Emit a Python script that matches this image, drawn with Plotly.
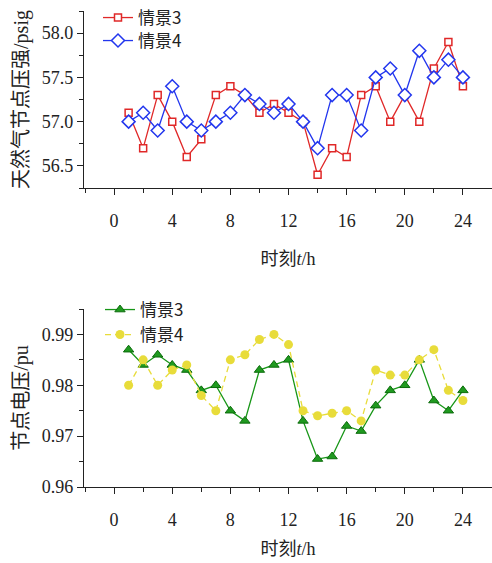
import plotly.graph_objects as go

# Hours of the day
hours = list(range(1, 25))

# Natural-gas node pressure (psig)
gas_s3 = [57.1, 56.7, 57.3, 57.0, 56.6, 56.8, 57.3, 57.4, 57.3, 57.1, 57.2, 57.1,
          57.0, 56.4, 56.7, 56.6, 57.3, 57.4, 57.0, 57.3, 57.0, 57.6, 57.9, 57.4]
gas_s4 = [57.0, 57.1, 56.9, 57.4, 57.0, 56.9, 57.0, 57.1, 57.3, 57.2, 57.1, 57.2,
          57.0, 56.7, 57.3, 57.3, 56.9, 57.5, 57.6, 57.3, 57.8, 57.5, 57.7, 57.5]

# Power node voltage (pu)
volt_s3 = [0.987, 0.984, 0.986, 0.984, 0.983, 0.979, 0.980, 0.975, 0.973, 0.983, 0.984, 0.985,
           0.973, 0.9655, 0.966, 0.972, 0.971, 0.976, 0.979, 0.980, 0.985, 0.977, 0.975, 0.979]
volt_s4 = [0.980, 0.985, 0.980, 0.983, 0.984, 0.978, 0.975, 0.985, 0.986, 0.989, 0.990, 0.988,
           0.975, 0.974, 0.9745, 0.975, 0.973, 0.983, 0.982, 0.982, 0.985, 0.987, 0.979, 0.977]

names = ["情景3", "情景4"]
x_ticks = [0, 4, 8, 12, 16, 20, 24]

# Latin glyphs in a Times-like serif, Chinese glyphs fall back to Noto Sans CJK
SERIF = "Liberation Serif, Times New Roman, Noto Sans CJK SC, serif"
CJK = "Noto Sans CJK SC, Liberation Serif"
INK = "#222222"

# page geometry (pixels)
W, H = 492, 563
LEFT_M, TOP_M, BOT_M = 84, 0, 76
PAPER_W = W - LEFT_M
PAPER_H = H - TOP_M - BOT_M


def fy(py):
    """Pixel row (from top of page) -> paper fraction."""
    return (H - BOT_M - py) / PAPER_H


def fx(px):
    """Pixel column -> paper fraction."""
    return (px - LEFT_M) / PAPER_W


fig = go.Figure()

fig.add_trace(go.Scatter(
    x=hours, y=gas_s3, name=names[0], mode="lines+markers",
    line=dict(color="#e02828", width=1.3),
    marker=dict(symbol="square", size=7, color="white", line=dict(color="#e02828", width=1.5)),
    xaxis="x", yaxis="y", legend="legend"))
fig.add_trace(go.Scatter(
    x=hours, y=gas_s4, name=names[1], mode="lines+markers",
    line=dict(color="#2236ee", width=1.3),
    marker=dict(symbol="diamond", size=10, color="white", line=dict(color="#2236ee", width=1.5)),
    xaxis="x", yaxis="y", legend="legend2"))

fig.add_trace(go.Scatter(
    x=hours, y=volt_s3, name=names[0], mode="lines+markers",
    line=dict(color="#179617", width=1.3),
    marker=dict(symbol="triangle-up", size=9, color="#1f9a1f", line=dict(color="#0b6b0b", width=1)),
    xaxis="x2", yaxis="y2", legend="legend3"))
fig.add_trace(go.Scatter(
    x=hours, y=volt_s4, name=names[1], mode="lines+markers",
    line=dict(color="#e8dc3a", width=1.3, dash="6px,4px"),
    marker=dict(symbol="circle", size=9, color="#e8dc3a"),
    xaxis="x2", yaxis="y2", legend="legend4"))


def x_axis(anchor, title_standoff):
    return dict(
        domain=[0, 1], anchor=anchor,
        range=[-2.07, 26.0], tickvals=x_ticks, ticks="outside", ticklen=6, tickwidth=1.3,
        tickcolor=INK, showline=True, linecolor=INK, linewidth=1.4, showgrid=False, zeroline=False,
        tickfont=dict(family=SERIF, size=18, color=INK), ticklabelstandoff=10,
        minor=dict(dtick=2, tick0=0, ticks="outside", ticklen=4, tickwidth=1.2, tickcolor=INK),
        title=dict(text="时刻<i>t</i>/h", font=dict(family=SERIF, size=18, color=INK),
                   standoff=title_standoff),
        automargin=False,
    )


ycommon = dict(
    ticks="outside", ticklen=6, tickwidth=1.3, tickcolor=INK, showline=True, linecolor=INK,
    linewidth=1.4, showgrid=False, zeroline=False, automargin=False,
    tickfont=dict(family=SERIF, size=18, color=INK),
)


def legend_row(px, py):
    # one legend per entry so each row sits at its own height
    return dict(x=fx(px), y=fy(py), xanchor="left", yanchor="middle",
                bgcolor="rgba(0,0,0,0)", borderwidth=0,
                font=dict(family=CJK, size=17, color=INK), itemwidth=30)


fig.update_layout(
    width=W, height=H,
    margin=dict(l=LEFT_M, r=0, t=TOP_M, b=BOT_M, autoexpand=False),
    paper_bgcolor="white", plot_bgcolor="white",
    xaxis=x_axis("y", 22),
    yaxis=dict(domain=[fy(188), fy(11)], anchor="x", range=[56.25, 58.25],
               tickvals=[56.5, 57.0, 57.5, 58.0], tickformat=".1f",
               minor=dict(dtick=0.25, tick0=56.25, ticks="outside", ticklen=4, tickwidth=1.2, tickcolor=INK),
               title=dict(text="天然气节点压强/psig", font=dict(family=SERIF, size=20, color=INK), standoff=7),
               **ycommon),
    xaxis2=x_axis("y2", 13),
    yaxis2=dict(domain=[0, fy(309)], anchor="x2", range=[0.96, 0.995],
                tickvals=[0.96, 0.97, 0.98, 0.99], tickformat=".2f",
                minor=dict(dtick=0.005, tick0=0.96, ticks="outside", ticklen=4, tickwidth=1.2, tickcolor=INK),
                title=dict(text="节点电压/pu", font=dict(family=SERIF, size=20, color=INK), standoff=7),
                **ycommon),
    legend=legend_row(98, 18),
    legend2=legend_row(98, 41),
    legend3=legend_row(100, 310),
    legend4=legend_row(100, 335),
    showlegend=True,
)

fig.write_html("out.html")
